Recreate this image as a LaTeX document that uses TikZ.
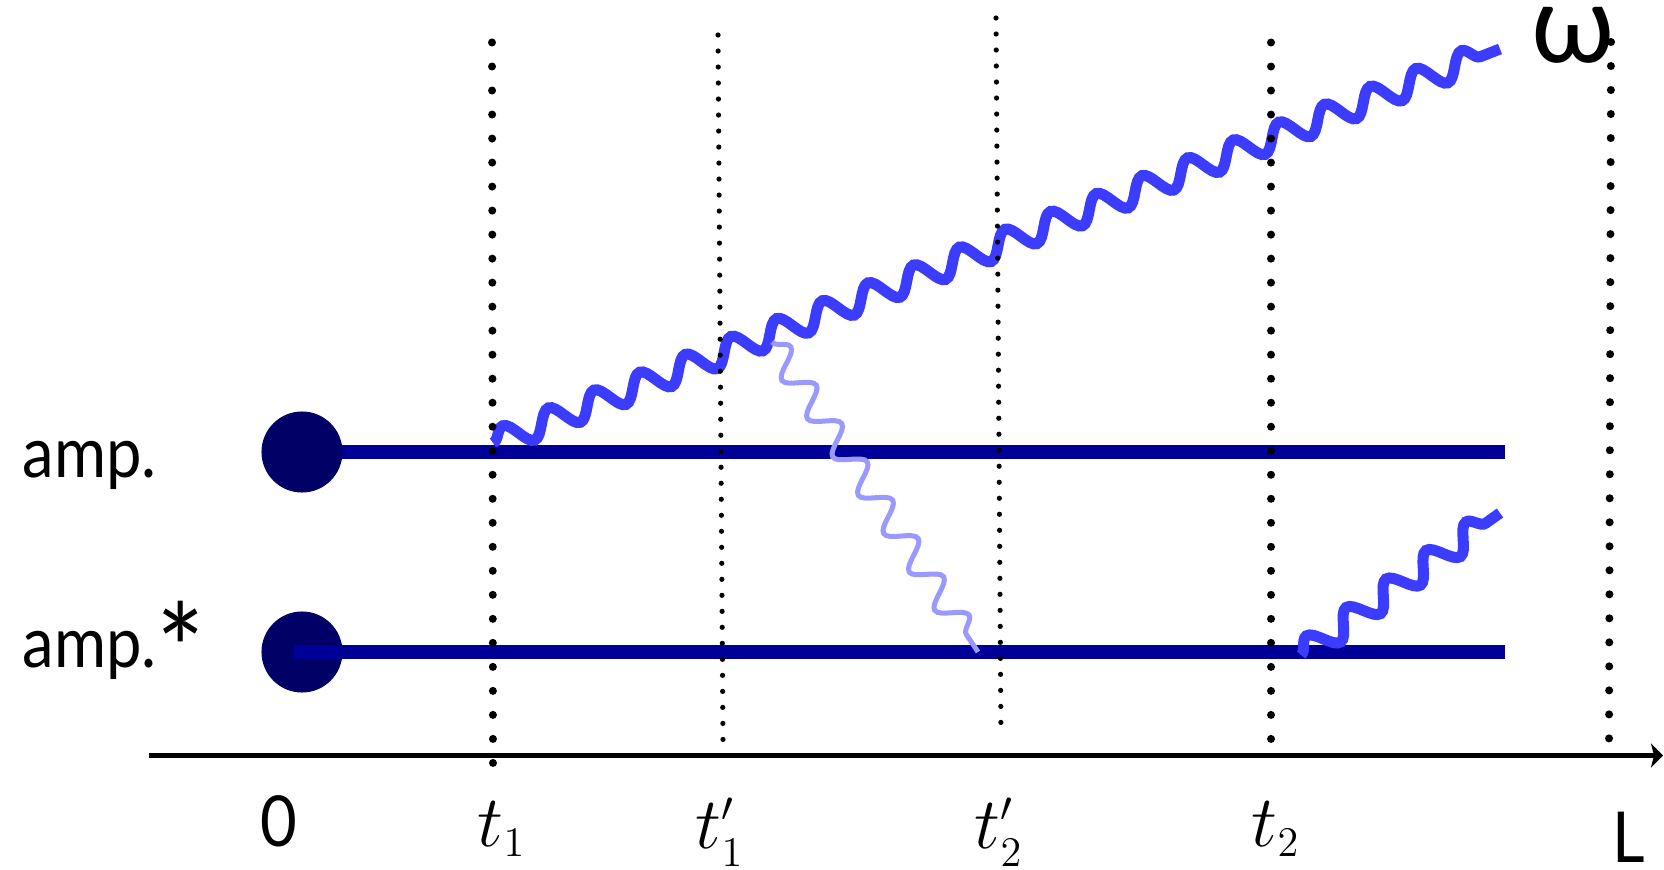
\documentclass[tikz,border=0pt]{standalone}
\usepackage{fontspec}
\setmainfont{Lato}[FakeStretch=0.9]
\newfontfamily\omegafont{Lato}
\DeclareMathSizes{20}{20}{12}{10}
\usetikzlibrary{decorations.pathmorphing,arrows.meta}
\definecolor{dotnavy}{RGB}{0,0,102}
\definecolor{linenavy}{RGB}{0,0,153}
\definecolor{wavethick}{RGB}{60,60,255}
\definecolor{wavelight}{RGB}{153,153,255}
\tikzset{
  ampline/.style={draw=linenavy, line width=0.14cm},
  ampdot/.style={circle, fill=dotnavy, inner sep=0pt, minimum size=0.81cm},
  bigdots/.style={line width=0.08cm, line cap=round, dash pattern=on 0pt off 0.24cm},
  smalldots/.style={line width=0.052cm, line cap=round, dash pattern=on 0pt off 0.16cm},
  photon/.style={draw=wavethick, line width=0.11cm, decorate, decoration={snake, segment length=0.49cm, amplitude=0.125cm}},
  softphoton/.style={draw=wavelight, line width=0.05cm, decorate, decoration={snake, segment length=0.46cm, amplitude=0.13cm}},
  axisline/.style={line width=0.05cm, -{Stealth[length=0.12cm, width=0.24cm, inset=0.03cm]}},
  lbl/.style={inner sep=0pt, font=\fontsize{20}{24}\selectfont},
}
\begin{document}
\begin{tikzpicture}[x=0.01cm, y=-0.01cm]
\useasboundingbox (0,0) rectangle (1664,870);
% axis
\coordinate (a0) at (149,755.5);
\coordinate (a1) at (1663,755.5);
\draw[axisline] (a0) -- (a1);
% amplitude lines and dots
\coordinate (p1) at (302,452);
\coordinate (e1) at (1505,452);
\draw[ampline] (p1) -- (e1);
\node[ampdot] (c1) at (p1) {};
\node[ampdot] (c2) at (302,652) {};
\coordinate (s2) at (294,652);
\coordinate (e2) at (1505,652);
\draw[ampline] (s2) -- (e2);
% photons
\coordinate (w1s) at (493,443);
\coordinate (w1e) at (1500,49);
\draw[photon] (w1s) -- (w1e);
\coordinate (w2s) at (772,342);
\coordinate (w2e) at (978,652);
\draw[softphoton] (w2s) -- (w2e);
\coordinate (w3s) at (1301,655);
\coordinate (w3e) at (1500,513);
\draw[photon] (w3s) -- (w3e);
% dotted time markers
\coordinate (t1top) at (492,42.5);
\coordinate (t1bot) at (493,764);
\coordinate (t1ptop) at (718,35);
\coordinate (t1pbot) at (723,741);
\coordinate (t2ptop) at (996,18);
\coordinate (t2pbot) at (1001,738);
\coordinate (t2top) at (1271,42.5);
\coordinate (t2bot) at (1271,745);
\coordinate (Ltop) at (1611,42);
\coordinate (Lbot) at (1609,742);
\draw[bigdots] (t1top) -- (t1bot);
\draw[smalldots] (t1ptop) -- (t1pbot);
\draw[smalldots] (t2ptop) -- (t2pbot);
\draw[bigdots] (t2top) -- (t2bot);
\draw[bigdots] (Ltop) -- (Lbot);
% labels
\node[lbl, anchor=base west] (lamp) at (22,477) {amp.};
\node[lbl, anchor=base west] (lampc) at (22,667) {amp.\raisebox{-0.29cm}{\scalebox{1.8}{*}}};
\node[lbl, anchor=base] (l0) at (279,846) {0};
\node[lbl, anchor=base west] (lL) at (1612,862) {L};
\node[lbl, anchor=base] (lt1) at (502,846) {$t_1$};
\node[lbl, anchor=base] (lt1p) at (720,848) {$t'_1$};
\node[lbl, anchor=base] (lt2p) at (999,848) {$t'_2$};
\node[lbl, anchor=base] (lt2) at (1276,846) {$t_2$};
\node[inner sep=0pt, anchor=base, font=\omegafont\fontsize{31}{34}\selectfont] (lw) at (1573,63) {ω};
\end{tikzpicture}
\end{document}
